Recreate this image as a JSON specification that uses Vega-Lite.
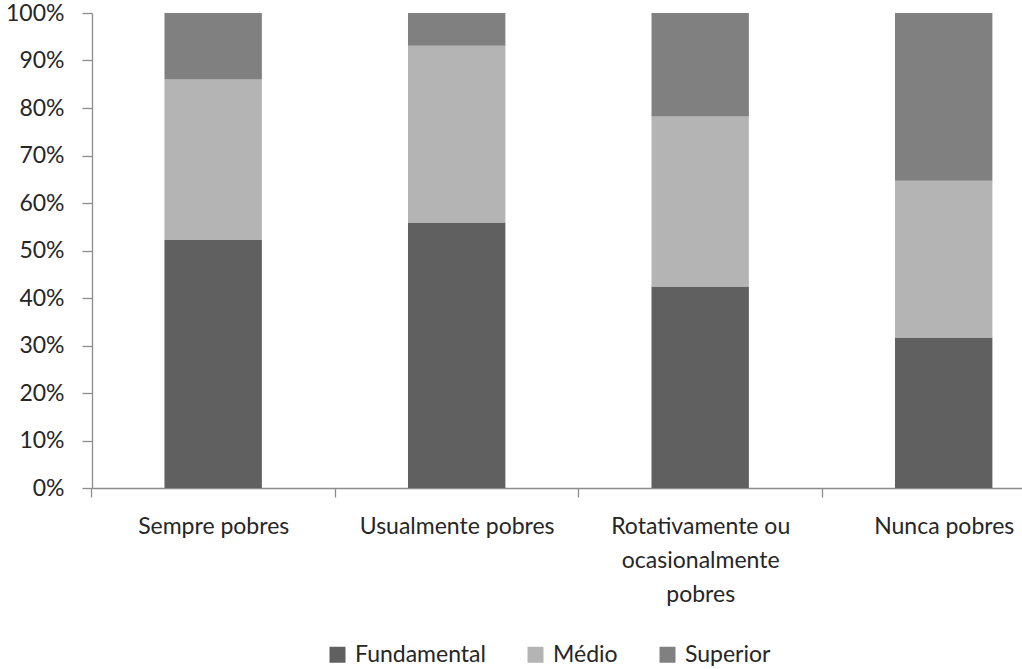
{
  "$schema": "https://vega.github.io/schema/vega-lite/v6.json",
  "autosize": "none",
  "padding": {"left": 92, "top": 13, "right": 0, "bottom": 181},
  "width": 930,
  "height": 475,
  "background": "white",
  "data": {
    "values": [
      {"grupo": "Sempre pobres", "nivel": "Fundamental", "ord": 1, "valor": 52.2},
      {"grupo": "Sempre pobres", "nivel": "Médio", "ord": 2, "valor": 33.8},
      {"grupo": "Sempre pobres", "nivel": "Superior", "ord": 3, "valor": 14.0},
      {"grupo": "Usualmente pobres", "nivel": "Fundamental", "ord": 1, "valor": 55.9},
      {"grupo": "Usualmente pobres", "nivel": "Médio", "ord": 2, "valor": 37.2},
      {"grupo": "Usualmente pobres", "nivel": "Superior", "ord": 3, "valor": 6.9},
      {"grupo": "Rotativamente ou ocasionalmente pobres", "nivel": "Fundamental", "ord": 1, "valor": 42.4},
      {"grupo": "Rotativamente ou ocasionalmente pobres", "nivel": "Médio", "ord": 2, "valor": 35.8},
      {"grupo": "Rotativamente ou ocasionalmente pobres", "nivel": "Superior", "ord": 3, "valor": 21.8},
      {"grupo": "Nunca pobres", "nivel": "Fundamental", "ord": 1, "valor": 31.7},
      {"grupo": "Nunca pobres", "nivel": "Médio", "ord": 2, "valor": 33.0},
      {"grupo": "Nunca pobres", "nivel": "Superior", "ord": 3, "valor": 35.3}
    ]
  },
  "mark": {"type": "bar"},
  "encoding": {
    "x": {
      "field": "grupo",
      "type": "nominal",
      "sort": ["Sempre pobres", "Usualmente pobres", "Rotativamente ou ocasionalmente pobres", "Nunca pobres"],
      "scale": {"paddingInner": 0.6, "paddingOuter": 0.2096, "align": 0.71},
      "axis": {
        "title": null,
        "labelAngle": 0,
        "labelExpr": "split(replace(datum.label, 'ou ocasionalmente ', 'ou|ocasionalmente|'), '|')",
        "labelLineHeight": 34,
        "labelPadding": 18,
        "labelLimit": 400,
        "tickOffset": -121.7,
        "labelOffset": 121.7,
        "tickSize": 9,
        "labelBaseline": "top"
      }
    },
    "y": {
      "field": "valor",
      "type": "quantitative",
      "stack": "normalize",
      "scale": {"domain": [0, 1]},
      "axis": {
        "title": null,
        "format": ".0%",
        "values": [0, 0.1, 0.2, 0.3, 0.4, 0.5, 0.6, 0.7, 0.8, 0.9, 1],
        "grid": false,
        "tickSize": 10,
        "labelPadding": 18
      }
    },
    "color": {
      "field": "nivel",
      "type": "nominal",
      "scale": {"domain": ["Fundamental", "Médio", "Superior"], "range": ["#606060", "#b4b4b4", "#808080"]},
      "legend": {
        "title": null,
        "orient": "none",
        "direction": "horizontal",
        "legendX": 234,
        "legendY": 630,
        "symbolType": "square",
        "symbolSize": 256,
        "symbolStrokeWidth": 0,
        "labelOffset": 6,
        "columnPadding": 38
      }
    },
    "order": {"field": "ord", "type": "quantitative"}
  },
  "config": {
    "view": {"stroke": null},
    "font": "Lato",
    "axis": {
      "labelFont": "Lato",
      "labelFontSize": 23,
      "labelColor": "#262626",
      "domainColor": "#8c8c8c",
      "tickColor": "#8c8c8c",
      "domainWidth": 1.3,
      "tickWidth": 1.3
    },
    "legend": {
      "labelFont": "Lato",
      "labelFontSize": 23,
      "labelColor": "#262626"
    }
  }
}
